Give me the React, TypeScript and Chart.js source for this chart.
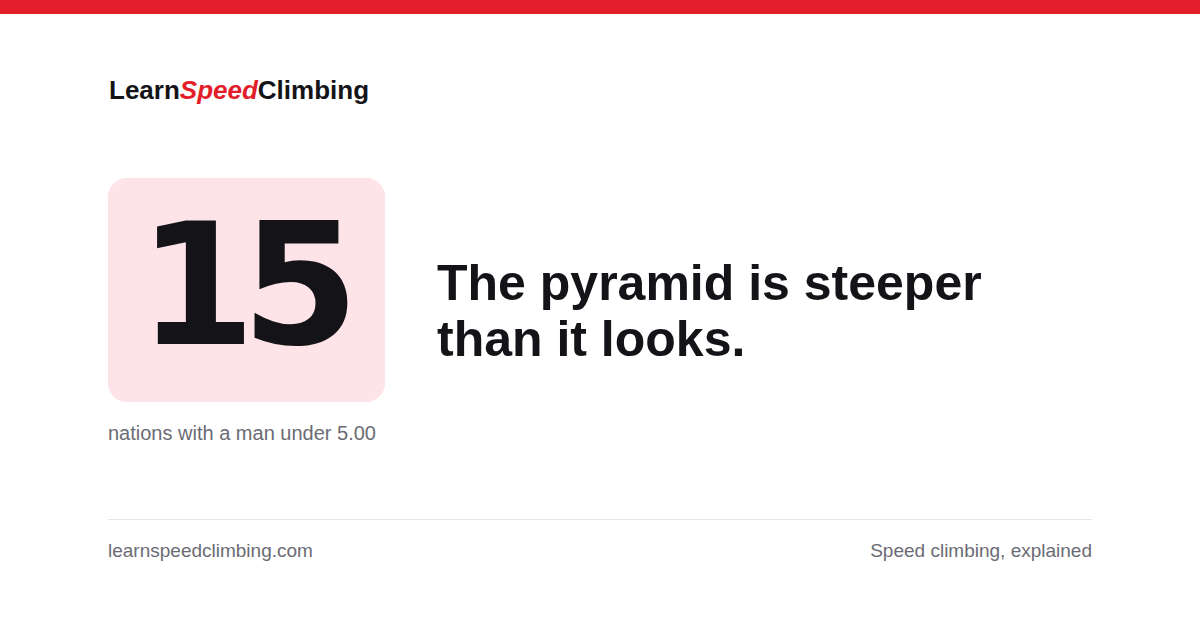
import { Chart, BarController, BarElement, CategoryScale, LinearScale } from 'chart.js';
import { useRef, useEffect } from 'react';
Chart.register(BarController, BarElement, CategoryScale, LinearScale);

// headline stat
const statLabels = ['nations with a man under 5.00'];
const statValues = [15];
const statMax = 15;

const headlineLines = ['The pyramid is steeper', 'than it looks.'];

const RED = '#e31e2b';
const INK = '#141418';
const GREY = '#6b6b74';
const PINK = '#fee4e8';

const bigNumberPlugin = {
    id: 'bigNumber',
    afterDatasetsDraw(chart: any) {
        const { ctx } = chart;
        const value = chart.data.datasets[0].data[0];
        ctx.save();
        ctx.fillStyle = INK;
        ctx.font = 'bold 169px "DejaVu Sans"';
        ctx.letterSpacing = '-14px';
        ctx.textAlign = 'left';
        ctx.textBaseline = 'alphabetic';
        ctx.fillText(String(value), 30, 166);
        ctx.restore();
    }
};

const StatBox = () => {
    const chartRef = useRef(null);

    useEffect(() => {
        let myChart: any = null;

        if (chartRef.current) {
            myChart = new Chart(chartRef.current, {
                type: 'bar',
                data: {
                    labels: statLabels,
                    datasets: [{
                        data: statValues,
                        backgroundColor: PINK,
                        borderRadius: 20,
                        borderSkipped: false,
                        categoryPercentage: 1,
                        barPercentage: 1
                    }]
                },
                options: {
                    animation: false,
                    responsive: false,
                    maintainAspectRatio: false,
                    layout: { padding: 0 },
                    scales: {
                        x: { display: false },
                        y: { display: false, min: 0, max: statMax }
                    },
                    plugins: {
                        legend: { display: false },
                        tooltip: { enabled: false }
                    }
                },
                plugins: [bigNumberPlugin]
            });
        }

        return () => {
            if (myChart) {
                myChart.destroy();
            }
        }
    }, []);

    return (
        <canvas ref={chartRef} width={277} height={224}
            style={{ position: 'absolute', left: 108, top: 178, width: 277, height: 224 }}></canvas>
    );
};

const App = () => {
    return (
        <div style={{
            position: 'fixed', left: 0, top: 0, width: 1200, height: 630, background: '#fff',
            overflow: 'hidden', fontFamily: '"Liberation Sans", Arial, sans-serif'
        }}>
            <div style={{ position: 'absolute', left: 0, top: 0, width: 1200, height: 14, background: RED }} />

            <div style={{
                position: 'absolute', left: 109, top: 75, fontSize: 26, lineHeight: '30px',
                fontWeight: 700, color: INK, whiteSpace: 'nowrap'
            }}>
                Learn<span style={{ color: RED, fontStyle: 'italic' }}>Speed</span>Climbing
            </div>

            <StatBox />

            <div style={{
                position: 'absolute', left: 108, top: 421, fontSize: 20, lineHeight: '24px',
                color: GREY, whiteSpace: 'nowrap'
            }}>
                {statLabels[0]}
            </div>

            <div style={{
                position: 'absolute', left: 437, top: 255, fontSize: 50, lineHeight: '56px',
                fontWeight: 700, color: INK, whiteSpace: 'nowrap'
            }}>
                {headlineLines.map((l) => <div key={l}>{l}</div>)}
            </div>

            <div style={{ position: 'absolute', left: 108, top: 519, width: 984, height: 1, background: '#e6e6e8' }} />

            <div style={{
                position: 'absolute', left: 108, top: 540, fontSize: 19, lineHeight: '22px',
                color: GREY, whiteSpace: 'nowrap'
            }}>
                learnspeedclimbing.com
            </div>
            <div style={{
                position: 'absolute', right: 108, top: 540, fontSize: 19, lineHeight: '22px',
                color: GREY, whiteSpace: 'nowrap'
            }}>
                Speed climbing, explained
            </div>
        </div>
    );
};

export default App;
